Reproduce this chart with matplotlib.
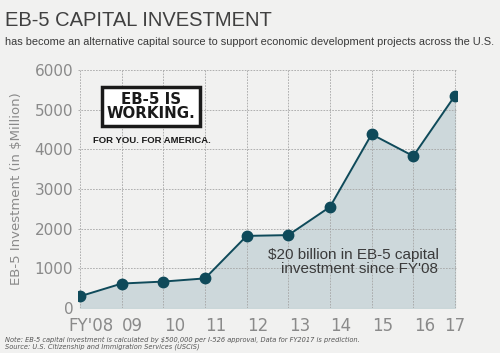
import matplotlib.pyplot as plt
from matplotlib import transforms
import numpy as np

# Data
years = ["FY'08", "09", "10", "11", "12", "13", "14", "15", "16", "17"]
investment = [300, 620, 670, 750, 1820, 1840, 2550, 4380, 3830, 5350]
y_ticks = [0, 1000, 2000, 3000, 4000, 5000, 6000]

narrow = "Liberation Sans"

line_color = "#0f4a5a"
fill_color = "#c9d6d9"
grid_color = "#a5a5a5"
text_gray = "#8a8a8a"

fig = plt.figure(figsize=(5, 3.53), dpi=100)
fig.patch.set_facecolor("#f1f1f0")
ax = fig.add_axes([0.156, 0.127, 0.758, 0.675])
ax.set_facecolor("none")

x = np.arange(len(years))
ax.fill_between(x, investment, 0, color=fill_color, alpha=0.9, zorder=1)
ax.plot(x, investment, color=line_color, lw=1.4, marker="o", ms=7.5, zorder=3)

ax.set_xlim(-0.05, len(years) - 1 + 0.05)
ax.set_ylim(0, 6000)
ax.set_yticks(y_ticks)
ax.set_xticks(x)
ax.set_xticklabels(years)
ax.grid(True, color=grid_color, ls=(0, (2, 1.5)), lw=0.6, zorder=0)
for s in ax.spines.values():
    s.set_visible(False)
ax.tick_params(length=0, colors=text_gray, labelsize=11)
ax.tick_params(axis="x", labelsize=12, pad=6)
# year labels sit a bit right of their points, except the last one
shift = transforms.ScaledTranslation(11 / 100, 0, fig.dpi_scale_trans)
for lbl in ax.get_xticklabels()[:-1]:
    lbl.set_transform(lbl.get_transform() + shift)
ax.set_ylabel("EB-5 Investment (in $Million)", color=text_gray, fontsize=9.5, labelpad=8)

# Title and subtitle
fig.text(0.01, 0.925, "EB-5 CAPITAL INVESTMENT", family=narrow, fontsize=14.5,
         color="#404040", va="baseline")
fig.text(0.01, 0.872, "has become an alternative capital source to support economic development projects across the U.S.",
         family=narrow, fontsize=7.9, color="#3a3a3a", va="baseline")

# Stamp
fig.text(0.302, 0.698, "EB-5 IS\nWORKING.", ha="center", va="center", fontsize=10.8,
         weight="bold", color="#1a1a1a", linespacing=0.95,
         bbox=dict(boxstyle="square,pad=0.3", fc="white", ec="#1a1a1a", lw=2.5))
fig.text(0.304, 0.603, "FOR YOU. FOR AMERICA.", ha="center", va="center", family=narrow,
         fontsize=6.8, weight="bold", color="#1a1a1a")

# Annotation
ax.text(0.951, 0.195, "$20 billion in EB-5 capital\ninvestment since FY'08",
        transform=ax.transAxes, ha="right", va="center", family=narrow,
        fontsize=11, color="#3a3a3a", linespacing=1.0, zorder=4)

# Footnote
fig.text(0.01, 0.026, "Note: EB-5 capital investment is calculated by $500,000 per I-526 approval, Data for FY2017 is prediction.\n"
         "Source: U.S. Citizenship and Immigration Services (USCIS)",
         fontsize=4.8, style="italic", color="#555555", va="center", linespacing=1.1)

fig.savefig("out.png", dpi=100, facecolor=fig.get_facecolor())
